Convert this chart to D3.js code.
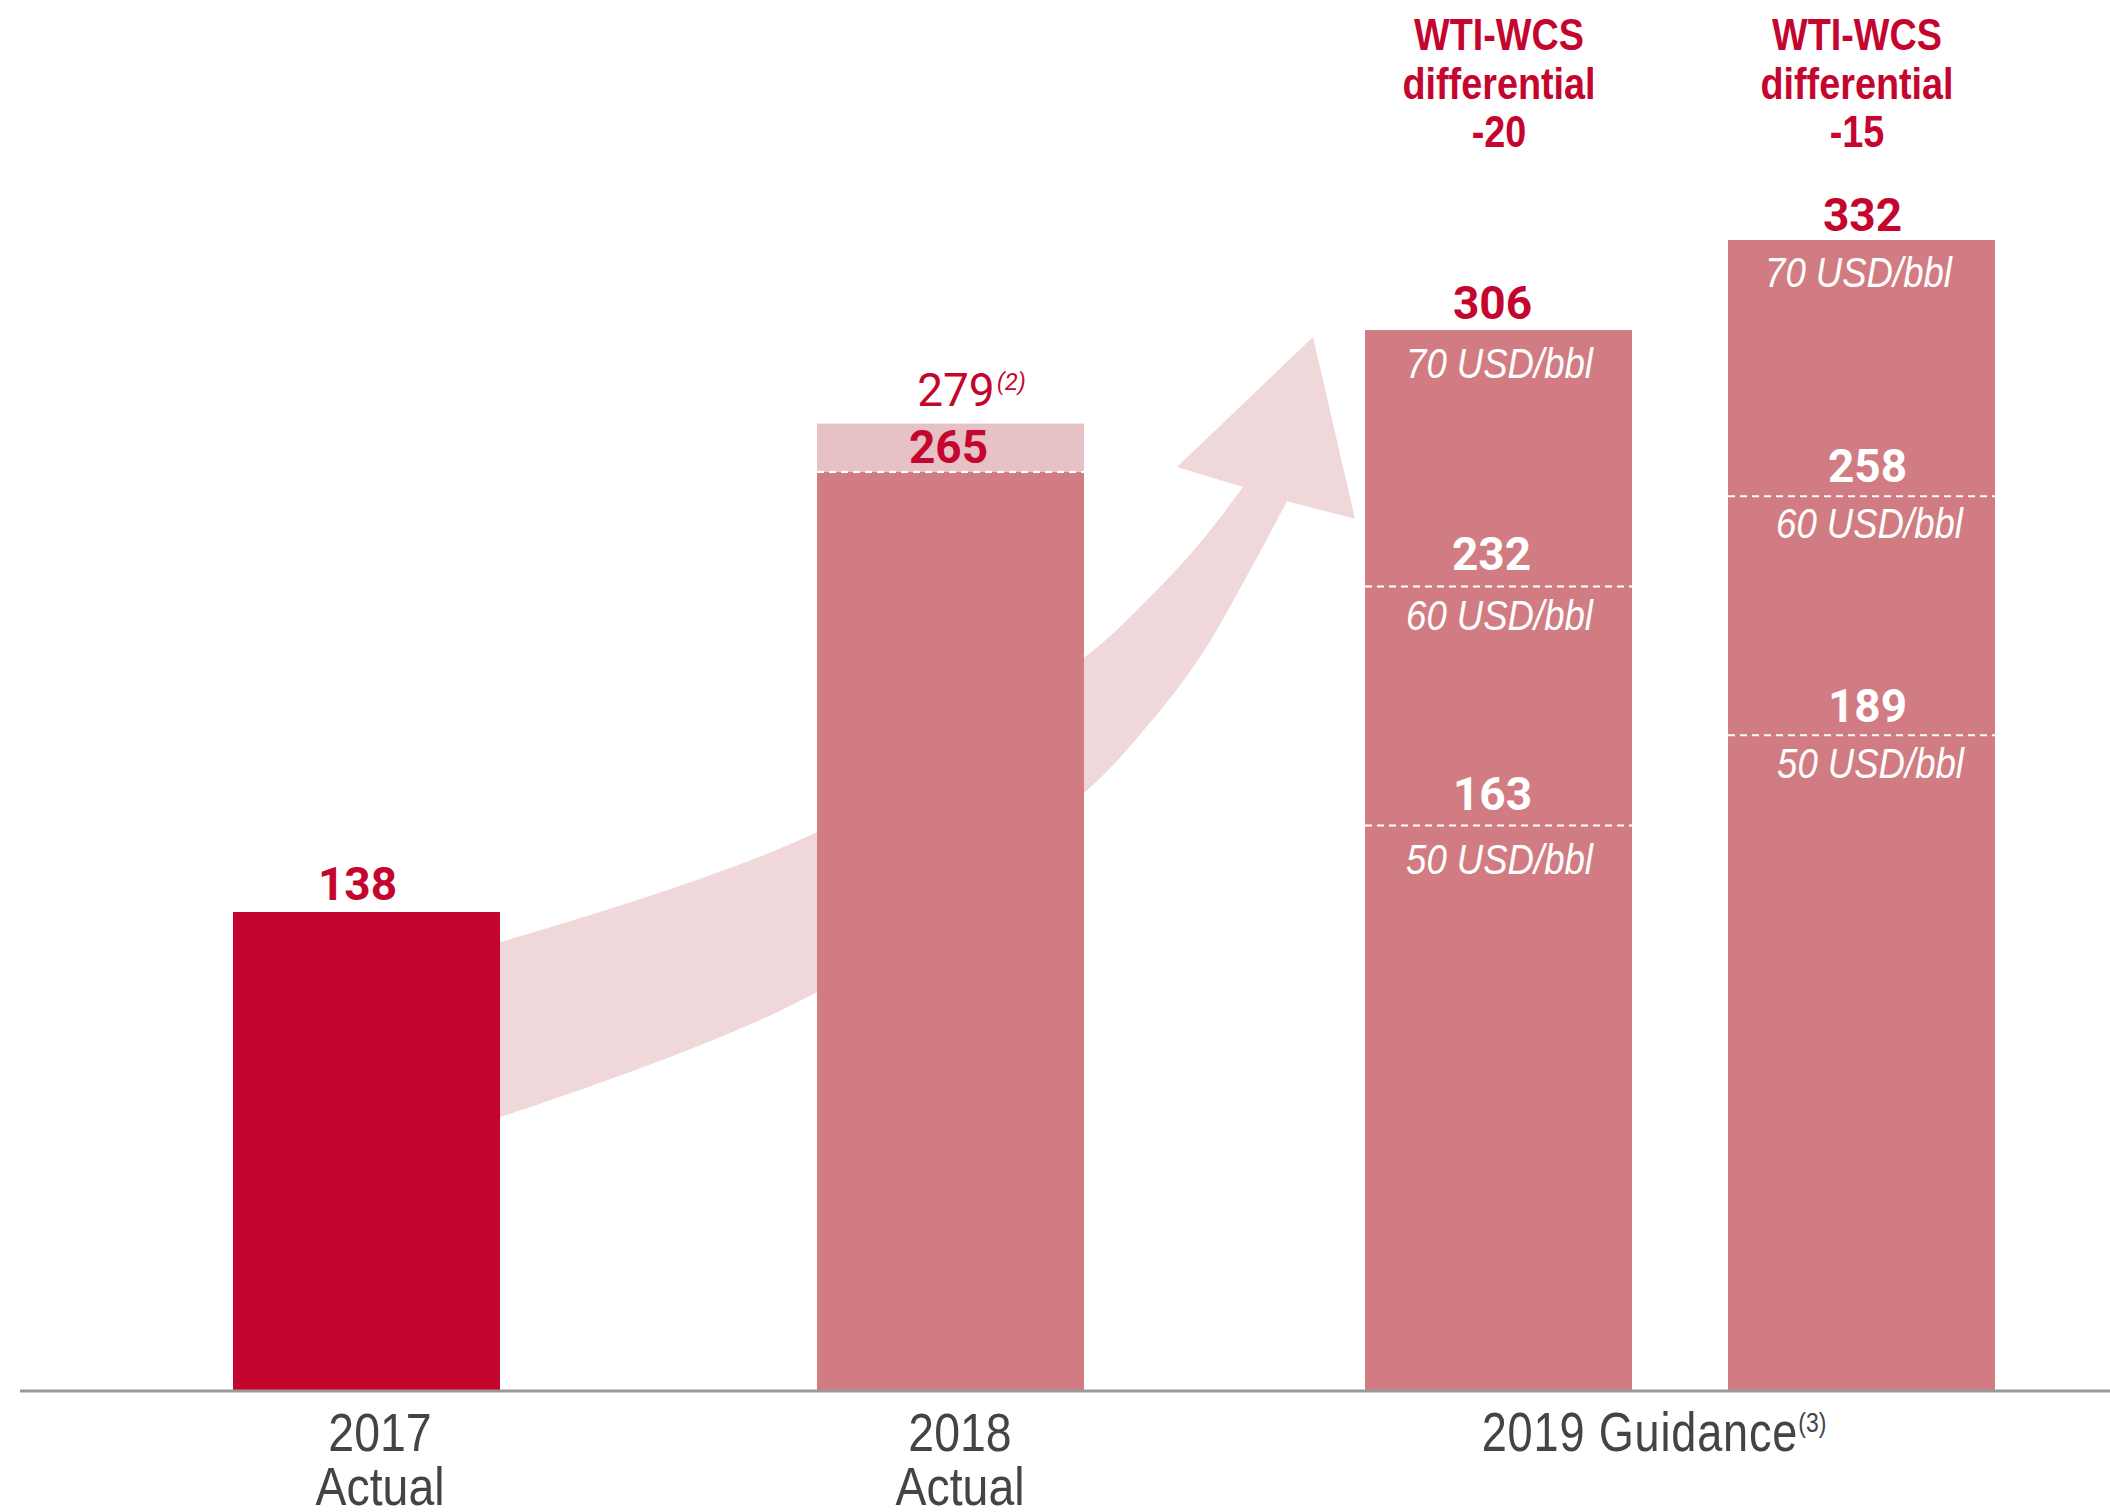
<!DOCTYPE html>
<html>
<head>
<meta charset="utf-8">
<script src="https://cdn.jsdelivr.net/npm/d3@7"></script>
<style>
  html, body { margin: 0; padding: 0; background: #fff; }
  svg { display: block; }
</style>
</head>
<body>
<svg id="chart" width="2110" height="1512"></svg>
<script>
// ---------------- DATA ----------------
const barKeys = ["2017 Actual", "2018 Actual", "2019 WTI-WCS -20", "2019 WTI-WCS -15"];
const actualValues = [138, 265];          // 2017, 2018 actual
const adjusted2018 = 279;                  // 2018 adjusted (2)
const adjusted2018Note = "(2)";
const guidanceDiffs = ["-20", "-15"];      // WTI-WCS differential
const guidance70 = [306, 332];             // at 70 USD/bbl
const guidance60 = [232, 258];             // at 60 USD/bbl
const guidance50 = [163, 189];             // at 50 USD/bbl
const priceLabels = ["70 USD/bbl", "60 USD/bbl", "50 USD/bbl"];
const axisLabels2017 = ["2017", "Actual"];
const axisLabels2018 = ["2018", "Actual"];
const axisLabel2019 = "2019 Guidance";
const axisLabel2019Note = "(3)";
const diffHeader = ["WTI-WCS", "differential"];

// ---------------- STYLE ----------------
const C_DARK = "#C4062E";
const C_MID = "#D17C82";
const C_LIGHT = "#E6C1C5";
const C_ARROW = "#EFD7DA";
const C_AXIS = "#999999";
const C_TEXT = "#444444";
const NUM_FONT = "Roboto, 'Liberation Sans', sans-serif";
const COND_FONT = "'Liberation Sans', Arial, sans-serif";

const svg = d3.select("#chart");
const y = d3.scaleLinear().domain([0, 332]).range([1390, 240]);
const x = d3.scaleOrdinal().domain(barKeys).range([366.5, 950.5, 1498.5, 1861.5]);
const barW = 267;

// condensed text helper (horizontally compressed sans)
function condText(cx, cy, str, o) {
  const t = svg.append("text")
    .attr("transform", `translate(${cx},${cy}) scale(${o.sx || 0.84},1)`)
    .attr("x", 0).attr("y", 0)
    .attr("text-anchor", "middle")
    .attr("font-family", COND_FONT)
    .attr("font-size", o.size)
    .attr("font-weight", o.weight || 400)
    .attr("font-style", o.style || "normal")
    .attr("fill", o.fill);
  if (o.ls) t.attr("letter-spacing", o.ls);
  t.append("tspan").text(str);
  return t;
}

// ---------------- ARROW ----------------
const xa = d3.scaleLinear().domain([0, 1])
  .range([x(barKeys[0]) + barW / 2, x(barKeys[2]) - barW / 2]);
const upperEdge = [[0, 129.3], [0.3665, 161.1], [0.675, 211.3], [0.7514, 228.9], [0.8092, 244.5], [0.859, 260.7]];
const headPts = [[0.7827, 266.5], [0.9399, 304.0], [0.9884, 251.5]];
const lowerEdge = [[0.9098, 256.6], [0.859, 233.0], [0.8092, 211.6], [0.7514, 192.6], [0.675, 172.3], [0.3665, 114.9], [0, 78.8]];
const curve = d3.line().x(d => xa(d[0])).y(d => y(d[1])).curve(d3.curveCatmullRom.alpha(0.5));
const straight = d3.line().x(d => xa(d[0])).y(d => y(d[1]));
const arrowPath = curve(upperEdge) +
  straight(headPts).replace(/^M/, "L") +
  curve(lowerEdge).replace(/^M/, "L") + "Z";
svg.append("path").attr("d", arrowPath).attr("fill", C_ARROW);

// ---------------- BARS ----------------
const bars = [
  { key: barKeys[0], v: actualValues[0], color: C_DARK },
  { key: barKeys[1], v: adjusted2018, color: C_LIGHT },
  { key: barKeys[1], v: actualValues[1], color: C_MID },
  { key: barKeys[2], v: guidance70[0], color: C_MID },
  { key: barKeys[3], v: guidance70[1], color: C_MID }
];
svg.append("g").selectAll("rect").data(bars).join("rect")
  .attr("x", d => x(d.key) - barW / 2)
  .attr("y", d => y(d.v))
  .attr("width", barW)
  .attr("height", d => y(0) - y(d.v))
  .attr("fill", d => d.color);

// dashed separators
const dashes = [
  { key: barKeys[1], v: actualValues[1] },
  { key: barKeys[2], v: guidance60[0] },
  { key: barKeys[2], v: guidance50[0] },
  { key: barKeys[3], v: guidance60[1] },
  { key: barKeys[3], v: guidance50[1] }
];
svg.append("g").selectAll("line").data(dashes).join("line")
  .attr("x1", d => x(d.key) - barW / 2)
  .attr("x2", d => x(d.key) + barW / 2)
  .attr("y1", d => y(d.v))
  .attr("y2", d => y(d.v))
  .attr("stroke", "#fff")
  .attr("stroke-width", 2)
  .attr("stroke-dasharray", "7,5");

// axis line
svg.append("line")
  .attr("x1", 20).attr("x2", 2110)
  .attr("y1", y(0) + 1).attr("y2", y(0) + 1)
  .attr("stroke", C_AXIS).attr("stroke-width", 3);

// ---------------- VALUE LABELS ----------------
function numLabel(key, v, dy, color, dx) {
  svg.append("text")
    .attr("x", x(key) + (dx || 0))
    .attr("y", y(v) + dy)
    .attr("text-anchor", "middle")
    .attr("font-family", NUM_FONT)
    .attr("font-weight", 700)
    .attr("font-size", 46)
    .attr("fill", color)
    .text(v);
}
numLabel(barKeys[0], actualValues[0], -12, C_DARK, -9);
numLabel(barKeys[1], actualValues[1], -9, C_DARK, -2);
numLabel(barKeys[2], guidance70[0], -11, C_DARK, -6);
numLabel(barKeys[3], guidance70[1], -9, C_DARK, 1);
numLabel(barKeys[2], guidance60[0], -16, "#fff", -7);
numLabel(barKeys[2], guidance50[0], -15, "#fff", -6);
numLabel(barKeys[3], guidance60[1], -14, "#fff", 6);
numLabel(barKeys[3], guidance50[1], -13, "#fff", 6);

// 279 (2)
const t279 = svg.append("text")
  .attr("x", x(barKeys[1]) + 21)
  .attr("y", y(adjusted2018) - 18)
  .attr("text-anchor", "middle")
  .attr("font-family", NUM_FONT)
  .attr("font-size", 46)
  .attr("fill", C_DARK);
t279.append("tspan").text(adjusted2018);
t279.append("tspan").attr("dy", -16).attr("font-size", 24).attr("font-style", "italic")
  .attr("dx", 2).text(adjusted2018Note);

// price labels inside 2019 bars
const priceRows = [
  { key: barKeys[2], v: guidance70[0], label: priceLabels[0], dy: 48, dx: 1 },
  { key: barKeys[2], v: guidance60[0], label: priceLabels[1], dy: 44, dx: 1 },
  { key: barKeys[2], v: guidance50[0], label: priceLabels[2], dy: 49, dx: 1 },
  { key: barKeys[3], v: guidance70[1], label: priceLabels[0], dy: 47, dx: -3 },
  { key: barKeys[3], v: guidance60[1], label: priceLabels[1], dy: 42, dx: 8 },
  { key: barKeys[3], v: guidance50[1], label: priceLabels[2], dy: 43, dx: 9 }
];
priceRows.forEach(d => {
  condText(x(d.key) + d.dx, y(d.v) + d.dy, d.label,
    { size: 43, style: "italic", fill: "#fff", sx: 0.85 });
});

// WTI-WCS headers
[barKeys[2], barKeys[3]].forEach((k, i) => {
  const lines = [diffHeader[0], diffHeader[1], guidanceDiffs[i]];
  const cx = x(k) + (i === 0 ? 0.5 : -4.5);
  lines.forEach((ln, j) => {
    condText(cx, 50 + j * 48.5, ln, { size: 45, weight: 700, fill: C_DARK, sx: 0.84 });
  });
});

// ---------------- AXIS LABELS ----------------
function axisLabel(key, lines, dx) {
  lines.forEach((ln, j) => {
    condText(x(key) + dx, y(0) + 61 + j * 54, ln, { size: 54, fill: C_TEXT, sx: 0.86 });
  });
}
axisLabel(barKeys[0], axisLabels2017, 13.5);
axisLabel(barKeys[1], axisLabels2018, 9.5);

const g2019c = (x(barKeys[2]) + x(barKeys[3])) / 2;
const t2019 = condText(g2019c - 26, y(0) + 61, axisLabel2019,
  { size: 55, fill: C_TEXT, sx: 0.82, ls: 1 });
t2019.append("tspan").attr("dy", -19).attr("font-size", 28).attr("letter-spacing", 0)
  .text(axisLabel2019Note);
</script>
</body>
</html>
